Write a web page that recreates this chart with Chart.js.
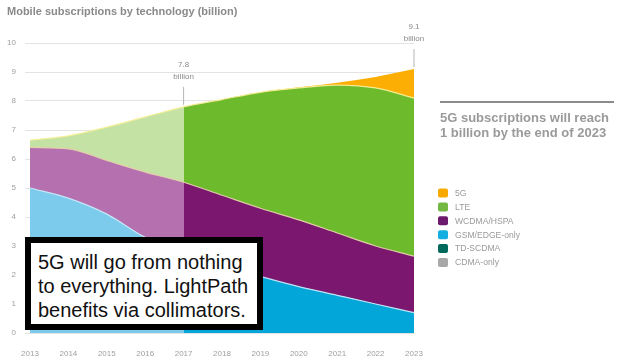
<!DOCTYPE html>
<html>
<head>
<meta charset="utf-8">
<script src="https://cdn.jsdelivr.net/npm/chart.js@4"></script>
<style>
  body { margin: 0; background: #fff; }
  #wrap { position: relative; width: 619px; height: 358px; }
  .encadre {
    position: absolute; left: 25px; top: 237px; width: 238px; height: 93px;
    box-sizing: border-box; border: 6px solid #000; background: #fff;
    padding: 7px 0 0 7px; font: 20px/24px "Liberation Sans", Arial, sans-serif;
    color: #111; white-space: nowrap;
  }
</style>
</head>
<body>
<div id="wrap">
  <canvas id="graphique" width="619" height="358"></canvas>
  <div class="encadre">5G will go from nothing<br>to everything. LightPath<br>benefits via collimators.</div>
</div>
<script>
// Annees (axe x)
const annees = ["2013", "2014", "2015", "2016", "2017", "2018", "2019", "2020", "2021", "2022", "2023"];
// Abonnements par technologie, en milliards (empiles, du bas vers le haut)
const cdmaOnly = [0, 0, 0, 0, 0, 0, 0, 0, 0, 0, 0];
const tdScdma = [0, 0, 0, 0, 0, 0, 0, 0, 0, 0, 0];
const gsmEdge = [5.0, 4.65, 4.1, 3.3, 2.8, 2.35, 1.95, 1.6, 1.3, 1.0, 0.7];
const wcdmaHspa = [1.4, 1.7, 1.85, 2.25, 2.4, 2.4, 2.35, 2.3, 2.15, 2.0, 1.95];
const lte = [0.25, 0.45, 1.15, 1.9, 2.6, 3.3, 4.0, 4.55, 5.1, 5.45, 5.45];
const cinqG = [0, 0, 0, 0, 0, 0, 0, 0.02, 0.08, 0.38, 1.0];
// Graduations de l'axe y
const ticksY = [0, 1, 2, 3, 4, 5, 6, 7, 8, 9, 10];
// Reperes "billion" au-dessus du total
const reperesAnnees = ["2017", "2023"];
const reperesTextes = ["7.8", "9.1"];
// Annee a partir de laquelle les couleurs sont pleines
const anneeBascule = "2017";

const noteTexte = ["5G subscriptions will reach", "1 billion by the end of 2023"];
const titre = "Mobile subscriptions by technology (billion)";

Chart.defaults.font.family = "'Liberation Sans', Arial, sans-serif";

// couleur claire avant 2017, couleur pleine ensuite
function degrade(clair, fonce) {
    return function (ctx) {
        const chart = ctx.chart;
        const zone = chart.chartArea;
        if (!zone || !chart.scales.x) return fonce;
        const xb = chart.scales.x.getPixelForValue(annees.indexOf(anneeBascule));
        const f = Math.min(1, Math.max(0, (xb - zone.left) / (zone.right - zone.left)));
        const g = chart.ctx.createLinearGradient(zone.left, 0, zone.right, 0);
        g.addColorStop(0, clair);
        g.addColorStop(f, clair);
        g.addColorStop(Math.min(1, f + 0.0001), fonce);
        g.addColorStop(1, fonce);
        return g;
    };
}

const series = [
    { label: "CDMA-only", data: cdmaOnly, legende: "#a8a8a8", clair: "#d0d0d0", fonce: "#a8a8a8" },
    { label: "TD-SCDMA", data: tdScdma, legende: "#00695c", clair: "#6fa89f", fonce: "#00695c" },
    { label: "GSM/EDGE-only", data: gsmEdge, legende: "#15aee0", clair: "#7ccaec", fonce: "#03a6d9", bord: "rgba(200,235,250,0.9)" },
    { label: "WCDMA/HSPA", data: wcdmaHspa, legende: "#6c1a6c", clair: "#b570b0", fonce: "#7c176f", bord: "rgba(230,210,170,0.9)" },
    { label: "LTE", data: lte, legende: "#72b843", clair: "#c4e2a4", fonce: "#6dbb2d", bord: "rgba(250,240,150,0.9)" },
    { label: "5G", data: cinqG, legende: "#f7a900", clair: "#fbd27a", fonce: "#fcae05" }
];

const datasets = series.map((s, i) => ({
    label: s.label,
    data: s.data,
    backgroundColor: degrade(s.clair, s.fonce),
    borderColor: s.bord || "rgba(0,0,0,0)",
    borderWidth: s.bord ? 1.2 : 0,
    fill: i === 0 ? "origin" : "-1",
    pointRadius: 0,
    cubicInterpolationMode: "monotone"
}));

const decorations = {
    id: "decorations",
    afterDraw(chart) {
        const ctx = chart.ctx;
        const x = chart.scales.x;
        const y = chart.scales.y;
        ctx.save();
        // titre
        ctx.fillStyle = "#8a8a8a";
        ctx.font = "bold 11px 'Liberation Sans', Arial, sans-serif";
        ctx.textBaseline = "middle";
        ctx.textAlign = "left";
        ctx.fillText(titre, 7, 12);

        // reperes totaux
        ctx.font = "8px 'Liberation Sans', Arial, sans-serif";
        ctx.textAlign = "center";
        for (let i = 0; i < reperesAnnees.length; i++) {
            const idx = annees.indexOf(reperesAnnees[i]);
            let total = 0;
            for (let s of series) total += s.data[idx];
            const px = x.getPixelForValue(idx);
            const py = y.getPixelForValue(total);
            ctx.strokeStyle = "#b5b5b5";
            ctx.lineWidth = 1;
            ctx.beginPath();
            ctx.moveTo(px, py - 20);
            ctx.lineTo(px, py - 2);
            ctx.stroke();
            ctx.fillStyle = "#8a8a8a";
            ctx.fillText(reperesTextes[i], px, py - 42);
            ctx.fillText("billion", px, py - 30);
        }

        // note a droite
        ctx.strokeStyle = "#8c8c8c";
        ctx.lineWidth = 2;
        ctx.beginPath();
        ctx.moveTo(440, 102);
        ctx.lineTo(614, 102);
        ctx.stroke();
        ctx.fillStyle = "#9a9a9a";
        ctx.font = "bold 13px 'Liberation Sans', Arial, sans-serif";
        ctx.textAlign = "left";
        ctx.fillText(noteTexte[0], 440, 118);
        ctx.fillText(noteTexte[1], 440, 133);

        // legende
        ctx.font = "8.6px 'Liberation Sans', Arial, sans-serif";
        const ordre = series.slice().reverse();
        for (let i = 0; i < ordre.length; i++) {
            const cy = 193 + i * 13.9;
            ctx.fillStyle = ordre[i].legende;
            ctx.beginPath();
            ctx.roundRect(438, cy - 4.5, 10, 9, 2);
            ctx.fill();
            ctx.fillStyle = "#9a9a9a";
            ctx.fillText(ordre[i].label, 455, cy + 0.5);
        }
        ctx.restore();
    }
};

const graphique = new Chart(document.querySelector("#graphique"), {
    type: "line",
    data: { labels: annees, datasets: datasets },
    options: {
        responsive: false,
        animation: false,
        layout: { padding: { left: 0, top: 43, right: 205, bottom: 0 } },
        plugins: { legend: { display: false }, tooltip: { enabled: false } },
        scales: {
            x: {
                grid: { display: false },
                border: { display: false },
                ticks: { color: "#a0a0a0", font: { size: 8 }, padding: 8, maxRotation: 0, autoSkip: false },
                afterFit: (scale) => { scale.height = 25; }
            },
            y: {
                stacked: true,
                min: 0,
                max: 10,
                afterBuildTicks: (scale) => { scale.ticks = ticksY.map(v => ({ value: v })); },
                grid: { color: "#e3e3e3", tickLength: 5, drawTicks: true },
                border: { display: false },
                ticks: { color: "#a0a0a0", font: { size: 8 }, padding: 9 },
                afterFit: (scale) => { scale.width = 30; }
            }
        }
    },
    plugins: [decorations]
});
</script>
</body>
</html>
